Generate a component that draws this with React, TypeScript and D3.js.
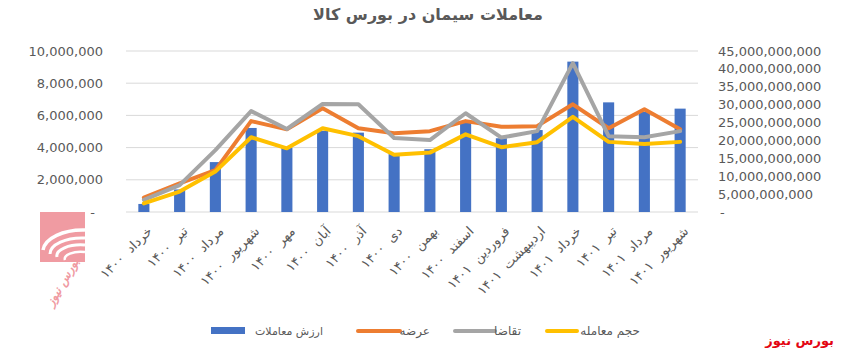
import React from "react";
import * as d3 from "d3";

const categories = [
  "خرداد  ۱۴۰۰", "تیر  ۱۴۰۰", "مرداد  ۱۴۰۰", "شهریور  ۱۴۰۰", "مهر  ۱۴۰۰", "آبان  ۱۴۰۰",
  "آذر  ۱۴۰۰", "دی  ۱۴۰۰", "بهمن  ۱۴۰۰", "اسفند  ۱۴۰۰", "فروردین  ۱۴۰۱", "اردیبهشت  ۱۴۰۱",
  "خرداد  ۱۴۰۱", "تیر  ۱۴۰۱", "مرداد  ۱۴۰۱", "شهریور  ۱۴۰۱",
];
// ارزش معاملات (left axis)
const tradeValue = [
  500000, 1400000, 3100000, 5220000, 4000000, 5050000, 4930000, 3600000,
  3900000, 5650000, 4580000, 5090000, 9340000, 6810000, 6230000, 6420000,
];
// عرضه (right axis)
const supply = [
  4.0e9, 8.0e9, 11.7e9, 25.4e9, 23.1e9, 29.0e9, 23.4e9, 22.0e9,
  22.6e9, 25.4e9, 23.8e9, 24.0e9, 30.1e9, 23.4e9, 28.7e9, 23.1e9,
];
// تقاضا (right axis)
const demand = [
  3.4e9, 7.5e9, 17.3e9, 28.2e9, 23.2e9, 30.2e9, 30.1e9, 20.7e9,
  20.1e9, 27.6e9, 20.8e9, 22.6e9, 41.6e9, 21.2e9, 20.9e9, 22.6e9,
];
// حجم معامله (right axis)
const volume = [
  2.4e9, 5.7e9, 11.3e9, 20.9e9, 17.8e9, 23.4e9, 21.2e9, 16.0e9,
  16.6e9, 21.7e9, 18.1e9, 19.5e9, 26.6e9, 19.6e9, 19.0e9, 19.6e9,
];
const leftTicks = [0, 2000000, 4000000, 6000000, 8000000, 10000000];
const rightTicks = [0, 5e9, 10e9, 15e9, 20e9, 25e9, 30e9, 35e9, 40e9, 45e9];

const title = "معاملات سیمان در بورس کالا";
const seriesNames = ["ارزش معاملات", "عرضه", "تقاضا", "حجم معامله"];
const brand = "بورس نیوز";

const W = 849, H = 352;
const FONT = "'DejaVu Sans', sans-serif";
const TXT = "#595959";
const C_BLUE = "#4472C4", C_ORANGE = "#ED7D31", C_GRAY = "#A5A5A5", C_YELLOW = "#FFC000";

export default function App() {
  const x = d3.scaleBand<string>().domain(categories).range([126, 698]);
  const yL = d3.scaleLinear().domain([0, 10000000]).range([212, 51]);
  const yR = d3.scaleLinear().domain([0, 45e9]).range([212, 51]);
  const fmt = d3.format(",");
  const cx = (c: string) => (x(c) as number) + x.bandwidth() / 2;
  const barW = x.bandwidth() * 0.31;

  const lineGen = d3
    .line<number>()
    .x((_, i) => cx(categories[i]))
    .y((v) => yR(v));

  const lines = [
    { data: supply, color: C_ORANGE },
    { data: demand, color: C_GRAY },
    { data: volume, color: C_YELLOW },
  ];

  return (
    <svg width={W} height={H} style={{ position: "absolute", left: 0, top: 0, background: "#fff" }}>
      <rect x={0} y={0} width={W} height={H} fill="#fff" />
      {/* title */}
      <text x={428} y={20} textAnchor="middle" fontFamily={FONT} fontSize={16} fontWeight="bold" fill={TXT}>
        {title}
      </text>
      {/* gridlines */}
      {leftTicks.map((t) => (
        <line key={"g" + t} x1={126} x2={698} y1={yL(t)} y2={yL(t)} stroke="#D9D9D9" strokeWidth={1} />
      ))}
      {/* left axis labels */}
      {leftTicks.map((t) => (
        <text key={"l" + t} x={t === 0 ? 95 : 103} y={yL(t)} dy="0.35em" textAnchor="end" fontFamily={FONT} fontSize={13} fill={TXT}>
          {t === 0 ? "-" : fmt(t)}
        </text>
      ))}
      {/* right axis labels */}
      {rightTicks.map((t) => (
        <text key={"r" + t} x={t === 0 ? 720 : 718} y={yR(t)} dy="0.35em" textAnchor="start" fontFamily={FONT} fontSize={13} fill={TXT}>
          {t === 0 ? "-" : fmt(t)}
        </text>
      ))}
      {/* bars */}
      {categories.map((c, i) => (
        <rect key={"b" + i} x={cx(c) - barW / 2} y={yL(tradeValue[i])} width={barW} height={yL(0) - yL(tradeValue[i])} fill={C_BLUE} />
      ))}
      {/* lines */}
      {lines.map((l, k) => (
        <path key={"ln" + k} d={lineGen(l.data) || ""} fill="none" stroke={l.color} strokeWidth={4} strokeLinejoin="round" strokeLinecap="round" />
      ))}
      {/* x labels */}
      {categories.map((c, i) => (
        <text
          key={"x" + i}
          transform={`translate(${cx(c) + 9},${232}) rotate(-45)`}
          textAnchor="end"
          fontFamily={FONT}
          fontSize={13}
          fill={TXT}
          style={{ whiteSpace: "pre" }}
        >
          {c}
        </text>
      ))}
      {/* legend */}
      <rect x={211} y={327} width={34} height={7} fill={C_BLUE} />
      <text x={255} y={331} dy="0.35em" textAnchor="start" fontFamily={FONT} fontSize={11} fill={TXT}>{seriesNames[0]}</text>
      <line x1={358} x2={400} y1={331} y2={331} stroke={C_ORANGE} strokeWidth={4} strokeLinecap="round" />
      <text x={430} y={331} dy="0.35em" textAnchor="end" fontFamily={FONT} fontSize={12} fill={TXT}>{seriesNames[1]}</text>
      <line x1={455} x2={495} y1={331} y2={331} stroke={C_GRAY} strokeWidth={4} strokeLinecap="round" />
      <text x={521} y={331} dy="0.35em" textAnchor="end" fontFamily={FONT} fontSize={12} fill={TXT}>{seriesNames[2]}</text>
      <line x1={547} x2={577} y1={331} y2={331} stroke={C_YELLOW} strokeWidth={4} strokeLinecap="round" />
      <text x={640} y={331} dy="0.35em" textAnchor="end" fontFamily={FONT} fontSize={12} fill={TXT}>{seriesNames[3]}</text>
      {/* logo */}
      <g opacity={0.85}>
        <rect x={40} y={212} width={45} height={50} fill="#EE8A92" />
        <path d="M 85 230 A 40 22 0 0 0 43 250" fill="none" stroke="#fff" strokeWidth={3.5} />
        <path d="M 85 238 A 32 16 0 0 0 50 254" fill="none" stroke="#fff" strokeWidth={3} />
        <path d="M 85 245 A 24 11 0 0 0 57 257" fill="none" stroke="#fff" strokeWidth={3} />
        <path d="M 85 252 A 16 7 0 0 0 65 260" fill="none" stroke="#fff" strokeWidth={2.5} />
        <text transform="translate(66,284) rotate(-60)" textAnchor="middle" fontFamily={FONT} fontSize={12} fontStyle="italic" fontWeight="bold" fill="#EE8A92">
          {brand}
        </text>
      </g>
      {/* brand bottom right */}
      <text x={834} y={345} textAnchor="end" fontFamily={FONT} fontSize={13} fontWeight="bold" fill="#E30613">
        {brand}
      </text>
    </svg>
  );
}
